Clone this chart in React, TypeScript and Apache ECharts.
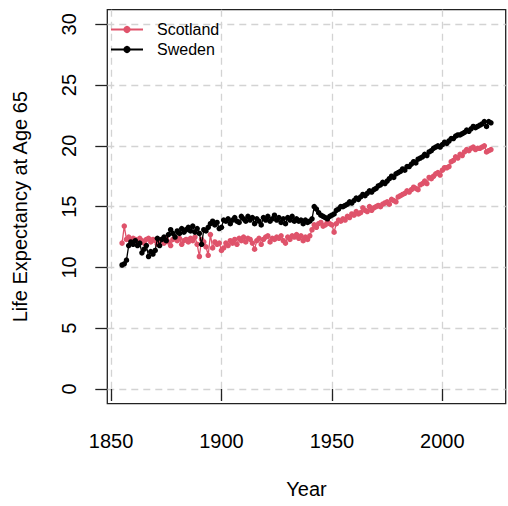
import React, { useEffect, useRef } from "react";
import * as echarts from "echarts";

const startYear = 1855;
const endYear = 2022;
const years: number[] = [];
for (let y = startYear; y <= endYear; y++) years.push(y);

const scotland: number[] = [
  12.0, 13.4, 12.3, 12.5, 12.2, 12.4, 12.3, 12.1, 12.4, 12.2,
  12.0, 12.3, 12.4, 12.1, 12.3, 12.2, 11.9, 12.2, 12.3, 12.0,
  12.4, 12.1, 11.8, 12.3, 12.5, 12.2, 12.4, 11.9, 12.2, 12.3,
  12.1, 12.4, 12.2, 12.5, 11.9, 10.9, 12.3, 12.1, 11.7, 11.0,
  12.7, 11.6, 12.1, 11.9, 12.0, 11.4, 11.6, 12.0, 11.8, 12.2,
  12.0, 12.3, 11.9, 12.4, 12.2, 12.5, 12.1, 12.4, 12.3, 12.0,
  11.5, 12.2, 12.4, 11.9, 12.3, 12.5, 12.6, 12.1, 12.4, 12.3,
  12.5, 12.4, 12.6, 12.2, 12.0, 12.5, 12.3, 12.6, 12.5, 12.7,
  12.4, 12.6, 12.2, 12.5, 12.3, 12.6, 13.1, 13.5, 13.3, 13.6,
  13.7, 13.4, 13.5, 13.8, 13.6, 13.5, 12.9, 13.6, 13.9, 13.8,
  14.0, 13.9, 14.2, 14.1, 14.4, 14.3, 14.6, 14.4, 14.5, 14.9,
  14.7, 14.6, 15.0, 14.7, 14.9, 15.0, 15.1, 15.0, 15.2, 15.3,
  15.4, 15.2, 15.6, 15.5, 15.4, 15.8, 15.9, 16.0, 16.1, 16.3,
  16.2, 16.4, 16.6, 16.5, 16.4, 16.8, 16.9, 17.1, 16.9, 17.4,
  17.3, 17.5, 17.7, 17.8, 17.6, 18.0, 18.2, 18.2, 18.3, 18.7,
  18.8, 19.1, 19.0, 19.3, 19.2, 19.5, 19.7, 19.6, 19.8, 19.9,
  19.7, 19.8, 19.8, 19.9, 20.0, 19.5, 19.6, 19.7,
];

const sweden: number[] = [
  10.2, 10.3, 10.6, 11.8, 12.1, 11.9, 12.2, 11.8, 12.0, 11.2,
  11.5, 11.8, 10.9, 11.3, 11.1, 11.4, 12.4, 11.8, 12.3, 12.5,
  12.2, 12.7, 13.1, 12.8, 12.5, 13.0, 12.8, 13.2, 12.9, 13.1,
  13.3, 13.0, 13.4, 12.9, 13.2, 12.8, 11.9, 13.1, 13.0, 13.3,
  13.6, 13.8, 13.5, 13.7, 13.2, 13.3, 13.9, 13.8, 14.0, 13.6,
  13.9, 14.1, 13.8, 13.7, 14.2, 14.0, 13.8, 14.2, 13.9, 14.1,
  13.6, 14.0, 13.8, 13.5, 14.1, 13.9, 14.2, 13.8, 14.0, 14.3,
  13.9, 14.1, 13.7, 14.0, 13.6, 14.1, 13.9, 14.2, 13.8, 14.0,
  13.8, 13.9, 13.6, 13.9, 13.7, 13.8, 14.0, 15.0, 14.8, 14.5,
  14.3, 14.2, 14.1, 14.0, 14.2, 14.3, 14.4, 14.7, 14.8, 15.0,
  15.0, 15.1, 15.2, 15.4, 15.3, 15.5, 15.7, 15.6, 15.8, 16.0,
  15.9, 16.1, 16.3, 16.2, 16.4, 16.5, 16.7, 16.8, 17.0, 16.9,
  17.1, 17.3, 17.5, 17.4, 17.7, 17.8, 17.9, 18.1, 18.0, 18.3,
  18.3, 18.5, 18.7, 18.6, 18.9, 19.0, 19.1, 19.3, 19.2, 19.5,
  19.6, 19.8, 19.9, 20.0, 19.9, 20.1, 20.3, 20.2, 20.4, 20.6,
  20.6, 20.8, 20.9, 20.9, 21.0, 21.1, 21.3, 21.2, 21.4, 21.6,
  21.5, 21.6, 21.7, 21.8, 22.0, 21.6, 22.0, 21.9,
];

const xTicks = [1850, 1900, 1950, 2000];
const yTicks = [0, 5, 10, 15, 20, 25, 30];

const FONT = "'Liberation Sans', Arial, Helvetica, sans-serif";
const AXIS_COLOR = "#222";
const GRID_COLOR = "#d3d3d3";

export default function App() {
  const ref = useRef<HTMLDivElement>(null);
  useEffect(() => {
    if (!ref.current) return;
    const chart = echarts.init(ref.current, undefined, { renderer: "svg" });
    const span = endYear - startYear;
    const xMin = startYear - span * 0.04;
    const xMax = endYear + span * 0.04;
    chart.setOption({
      animation: false,
      textStyle: { fontFamily: FONT },
      grid: {
        left: 107.3,
        right: 2.3,
        top: 9.7,
        bottom: 102.4,
        show: true,
        borderColor: AXIS_COLOR,
        borderWidth: 1.3,
        backgroundColor: "transparent",
        containLabel: false,
      },
      legend: {
        orient: "vertical",
        left: 110,
        top: 21,
        padding: 0,
        itemWidth: 32,
        itemHeight: 9,
        itemGap: 3,
        data: ["Scotland", "Sweden"],
        textStyle: {
          fontFamily: FONT,
          fontSize: 16,
          color: "#000",
          lineHeight: 17,
          padding: [0, 0, 0, 9],
        },
      },
      xAxis: {
        type: "value",
        min: xMin,
        max: xMax,
        name: "Year",
        nameLocation: "middle",
        nameGap: 75,
        nameTextStyle: { fontFamily: FONT, fontSize: 20, color: "#000" },
        axisLine: { show: false },
        axisTick: {
          show: true,
          inside: false,
          length: 12,
          customValues: xTicks,
          lineStyle: { color: AXIS_COLOR, width: 1.3 },
        },
        axisLabel: {
          customValues: xTicks,
          margin: 27,
          fontFamily: FONT,
          fontSize: 20,
          color: "#000",
          formatter: (v: number) => String(Math.round(v)),
        },
        splitLine: {
          show: true,
          lineStyle: { color: GRID_COLOR, type: [7, 5], width: 1.3 },
        },
      },
      yAxis: {
        type: "value",
        min: -1.2,
        max: 31.2,
        name: "Life Expectancy at Age 65",
        nameLocation: "middle",
        nameRotate: 90,
        nameGap: 77,
        nameTextStyle: { fontFamily: FONT, fontSize: 20, color: "#000" },
        axisLine: { show: false },
        axisTick: {
          show: true,
          inside: false,
          length: 12,
          customValues: yTicks,
          lineStyle: { color: AXIS_COLOR, width: 1.3 },
        },
        axisLabel: {
          customValues: yTicks,
          rotate: 90,
          margin: 28,
          fontFamily: FONT,
          fontSize: 20,
          color: "#000",
          formatter: (v: number) => String(Math.round(v)),
        },
        splitLine: {
          show: true,
          lineStyle: { color: GRID_COLOR, type: [7, 5], width: 1.3 },
        },
      },
      series: [
        {
          name: "Scotland",
          type: "line",
          data: years.map((y, i) => [y, scotland[i]]),
          symbol: "circle",
          symbolSize: 5.5,
          showSymbol: true,
          lineStyle: { color: "#DF536B", width: 1.3 },
          itemStyle: { color: "#DF536B" },
          z: 3,
        },
        {
          name: "Sweden",
          type: "line",
          data: years.map((y, i) => [y, sweden[i]]),
          symbol: "circle",
          symbolSize: 5.5,
          showSymbol: true,
          lineStyle: { color: "#000", width: 1.3 },
          itemStyle: { color: "#000" },
          z: 4,
        },
      ],
    });
    return () => chart.dispose();
  }, []);
  return (
    <div
      ref={ref}
      style={{ position: "fixed", left: 0, top: 0, width: 508, height: 506, background: "#fff" }}
    />
  );
}
